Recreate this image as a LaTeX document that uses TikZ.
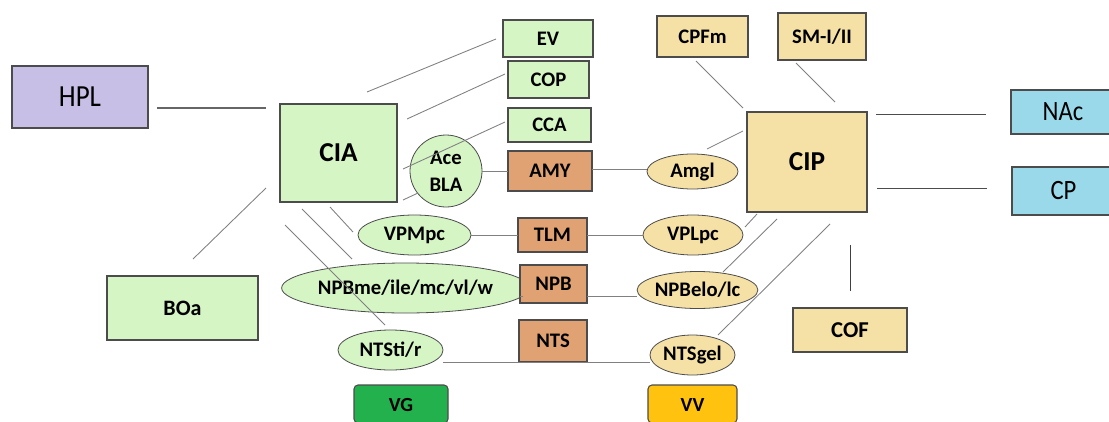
\documentclass[tikz,border=0pt]{standalone}
\usepackage{fontspec}
\setmainfont{Carlito}
\newfontfamily\narrowfont[FakeStretch=0.88]{Carlito}
\usetikzlibrary{shapes.geometric,calc}
\definecolor{lgreen}{HTML}{D5F5C5}
\definecolor{lav}{HTML}{C8BFE7}
\definecolor{tan}{HTML}{F5E1A5}
\definecolor{orng}{HTML}{E0A273}
\definecolor{lblue}{HTML}{99D9EA}
\definecolor{vgreen}{HTML}{22B14C}
\definecolor{vgold}{HTML}{FFC20E}
\definecolor{linkgray}{HTML}{808080}
\begin{document}
\begin{tikzpicture}[x=0.75pt,y=-0.75pt, every node/.style={outer sep=0pt},
  sz/.style 2 args={minimum width=#1*0.75pt, minimum height=#2*0.75pt},
  lbl/.style={font=\bfseries\fontsize{15.5}{20}\selectfont},
  box/.style={draw=black!70, line width=0.8pt, inner sep=0pt, lbl},
  ell/.style={ellipse, draw=black!70, line width=0.6pt, inner sep=0pt, lbl},
  big/.style={font=\bfseries\fontsize{20.5}{24}\selectfont},
  reg/.style={font=\narrowfont\fontsize{21}{24}\selectfont},
  legend/.style={box, rounded corners=3pt, sz={#1}{38}, font=\bfseries\fontsize{15}{16}\selectfont, text depth=0pt, text height=11pt, yshift=1.5pt},
  link/.style={draw=linkgray, line width=0.65pt}]
\useasboundingbox (0,0) rectangle (1109,421);

% left
\node[box, fill=lav, sz={136}{62}, font=\narrowfont\fontsize{23}{26}\selectfont] (hpl) at (80,97) {HPL};
\node[box, fill=lgreen, sz={117}{98}, big] (cia) at (338.5,153) {CIA};
\node[box, fill=lgreen, sz={151}{64}, font=\bfseries\fontsize{16.5}{20}\selectfont] (boa) at (182.5,308) {BOa};

% top green column
\node[box, fill=lgreen, sz={90}{37}] (ev) at (548,38.5) {EV};
\node[box, fill=lgreen, sz={81}{37}] (cop) at (548.5,79.5) {COP};
\node[box, fill=lgreen, sz={83}{34}] (cca) at (549.5,125) {CCA};
\node[box, fill=orng, sz={84}{40}] (amy) at (550,171) {AMY};
\node[circle, draw=black!70, line width=0.6pt, fill=lgreen, inner sep=0pt, minimum size=72*0.75pt, lbl, align=center] (bla) at (446,171) {Ace\\BLA};

% middle rows
\node[ell, fill=lgreen, sz={113}{40}] (vpm) at (414.5,235) {VPMpc};
\node[box, fill=orng, sz={69}{34}] (tlm) at (552.5,235) {TLM};
\node[ell, fill=tan, sz={100}{40}] (vpl) at (693,235) {VPLpc};

\node[ell, fill=lgreen, sz={215}{50}] (npbme) at (405.5,288) {NPBme/ile/mc/vl/w};
\node[box, fill=orng, sz={67}{38}] (npb) at (553.5,284) {NPB};
\node[ell, fill=tan, sz={115}{37}] (npbelo) at (697.5,290) {NPBelo/lc};

\node[ell, fill=lgreen, sz={105}{40}] (ntsti) at (390.5,350) {NTSti/r};
\node[box, fill=orng, sz={68}{42}] (nts) at (553,341) {NTS};
\node[ell, fill=tan, sz={85}{40}] (ntsgel) at (692.5,355) {NTSgel};

\node[ell, fill=tan, sz={91}{35}] (amgl) at (692.5,171.5) {Amgl};

% right side
\node[box, fill=tan, sz={91}{41}] (cpfm) at (702.5,36.5) {CPFm};
\node[box, fill=tan, sz={88}{47}] (sm) at (822,36.5) {SM-I/II};
\node[box, fill=tan, sz={120}{100}, big] (cip) at (807,162) {CIP};
\node[box, fill=tan, sz={114}{44}, font=\bfseries\fontsize{17}{20}\selectfont] (cof) at (850,330) {COF};
\node[box, fill=lblue, sz={104}{44}, reg] (nac) at (1063,112) {NAc};
\node[box, fill=lblue, sz={103}{48}, reg] (cp) at (1063.5,191) {CP};

% legend
\node[legend=94, fill=vgreen] (vg) at (401,406) {VG};
\node[legend=89, fill=vgold] (vv) at (692.5,406) {VV};

% connectors
\draw[link, line width=1pt, draw=black!60] ($(hpl.east)+(9,11)$) -- ($(cia.west)+(-14,-45)$);
\draw[link] ($(cia.north east)+(-30,-12)$) -- ($(ev.west)+(-7,0.5)$);
\draw[link] ($(cia.north east)+(10,15)$) -- ($(cop.west)+(-3,-5.5)$);
\draw[link] ($(cia.east)+(6,16)$) -- ($(cca.west)+(-3,-3)$);
\draw[link] ($(cia.south east)+(6,-2)$) -- ($(bla.center)+(-28,22)$);
\draw[link] (bla.east) -- (amy.west);
\draw[link] ($(amy.east)+(0,-2)$) -- ($(amgl.west)+(0,-2.5)$);
\draw[link] ($(amgl.center)+(14.5,-22.5)$) -- ($(cip.west)+(-4,-31)$);
\draw[link] ($(cpfm.south)+(-6.5,4)$) -- ($(cip.north west)+(-4,-4)$);
\draw[link] ($(sm.south)+(-26,3)$) -- ($(cip.north)+(28,-10)$);
\draw[link, draw=black!70] ($(cip.north east)+(9,2)$) -- ($(nac.west)+(-25,2)$);
\draw[link, draw=black!70] ($(cip.east)+(10,26)$) -- ($(cp.west)+(-25,-3)$);
\draw[link] ($(cia.south west)+(-14,-14)$) -- ($(boa.north)+(10.5,-17)$);
\draw[link] ($(cia.south)+(-8.5,5)$) -- ($(vpm.west)+(-5,-3)$);
\draw[link] ($(cia.south)+(-36.5,7)$) -- ($(npbme.north)+(-53.5,-4)$);
\draw[link] ($(cia.south west)+(5,23)$) -- ($(ntsti.north)+(-5.5,-5)$);
\draw[link] (vpm.east) -- (tlm.west);
\draw[link] (tlm.east) -- (vpl.west);
\draw[link] ($(npbme.east)+(-6,8)$) -- ($(npb.west)+(0,12)$);
\draw[link] ($(npb.east)+(0,12)$) -- ($(npbelo.west)+(0,6)$);
\draw[link] (ntsti.east |- nts.south) -- (ntsgel.west |- nts.south);
\draw[link] ($(cip.south west)+(10,2)$) -- ($(vpl.east)+(2,-8)$);
\draw[link] ($(cip.south)+(-30,7)$) -- ($(npbelo.center)+(25.5,-18)$);
\draw[link] ($(cip.south)+(23,12)$) -- ($(ntsgel.center)+(25.5,-20)$);
\draw[link, draw=black!75] ($(cip.south)+(43,33)$) -- ($(cof.north)+(0,-17)$);
\end{tikzpicture}
\end{document}
